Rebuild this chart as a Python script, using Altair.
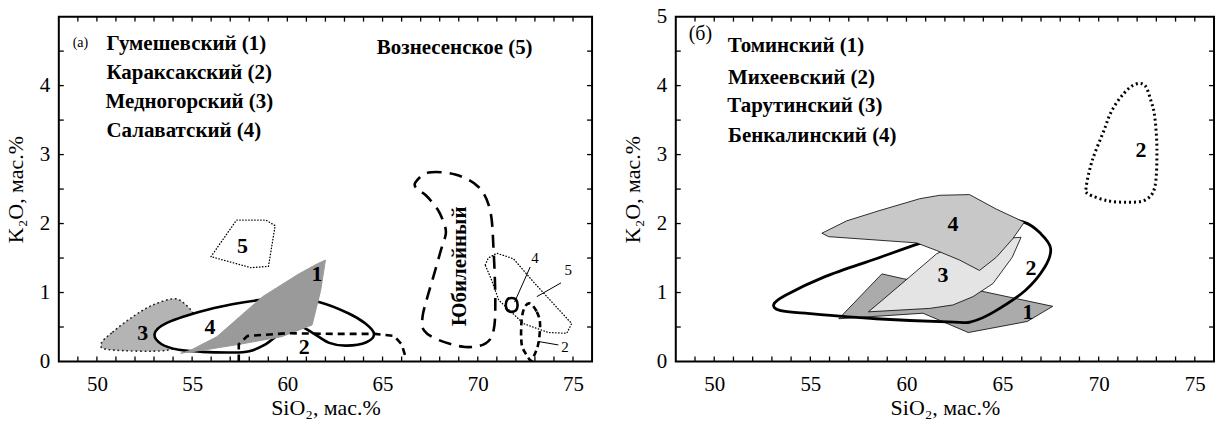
import altair as alt
import pandas as pd

FONT = "Times New Roman, Liberation Serif, DejaVu Serif, serif"
H = 346
W_A = 535
W_B = 540

X_LABELS = [50, 55, 60, 65, 70, 75]
Y_LABELS_A = [0, 1, 2, 3, 4]
Y_LABELS_B = [0, 1, 2, 3, 4, 5]
X_MINOR = [49, 50, 51, 52, 53, 54, 55, 56, 57, 58, 59, 60, 61, 62,
           63, 64, 65, 66, 67, 68, 69, 70, 71, 72, 73, 74, 75]
Y_MINOR = [0.5, 1.0, 1.5, 2.0, 2.5, 3.0, 3.5, 4.0, 4.5]

# ---------- panel (а) ----------
gum_x = [54.4, 55.7, 57.5, 59.7, 61.3, 61.75, 62.0, 61.6, 60.6, 58.7, 57.5, 56.3, 54.9]
gum_y = [0.12, 0.17, 0.25, 0.36, 0.53, 1.03, 1.47, 1.42, 1.27, 0.94, 0.65, 0.36, 0.16]

med_x = [50.23, 50.84, 51.89, 52.94, 54.07, 54.68, 55.05, 55.1, 54.3, 53.6, 50.67]
med_y = [0.26, 0.43, 0.65, 0.82, 0.91, 0.82, 0.70, 0.62, 0.30, 0.16, 0.17]

sal_x = [53.03, 53.6, 55.4, 57.1, 58.5, 60.0, 61.7, 63.2, 64.1, 64.55, 64.15, 63.1,
         62.2, 61.3, 60.5, 59.6, 58.8, 58.0, 57.1, 55.5, 54.3, 53.4]
sal_y = [0.40, 0.55, 0.72, 0.83, 0.89, 0.92, 0.86, 0.70, 0.55, 0.40, 0.28, 0.23,
         0.27, 0.42, 0.52, 0.40, 0.24, 0.15, 0.13, 0.14, 0.17, 0.25]

kar_x = [57.45, 57.45, 57.9, 60.0, 62.5, 64.6, 65.6, 66.0, 66.25]
kar_y = [0.00, 0.25, 0.37, 0.41, 0.40, 0.40, 0.37, 0.25, 0.03]

voz_x = [55.99, 57.33, 58.87, 59.36, 59.01, 58.09]
voz_y = [1.52, 2.05, 2.05, 1.97, 1.38, 1.36]

jub_x = [66.73, 67.42, 68.82, 70.04, 70.65, 70.83, 70.92, 70.83, 70.39, 69.34, 67.96,
         67.18, 67.1, 67.36, 67.71, 68.06, 68.32, 68.23, 67.88, 67.27, 66.8]
jub_y = [2.60, 2.74, 2.71, 2.53, 2.19, 1.61, 0.89, 0.45, 0.26, 0.21, 0.31,
         0.45, 0.65, 0.94, 1.27, 1.61, 1.85, 2.00, 2.21, 2.41, 2.50]

j5_x = [70.39, 70.55, 71.0, 71.87, 73.0, 74.93, 74.67, 73.71, 72.4, 71.1, 70.7]
j5_y = [1.40, 1.50, 1.57, 1.49, 1.13, 0.55, 0.41, 0.42, 0.55, 0.89, 1.20]

j2_x = [72.75, 73.1, 73.27, 73.18, 72.95, 72.8, 72.55, 72.3, 72.3, 72.47]
j2_y = [0.84, 0.72, 0.55, 0.26, 0.08, 0.01, 0.10, 0.26, 0.60, 0.79]

j4_x = [71.47, 71.56, 71.78, 72.0, 72.09, 72.0, 71.78, 71.56]
j4_y = [0.82, 0.90, 0.92, 0.90, 0.82, 0.74, 0.72, 0.74]

lead_x = [[71.93, 72.75], [73.1, 74.37], [73.18, 74.23]]
lead_y = [[0.86, 1.37], [0.94, 1.14], [0.29, 0.24]]

small_txt = ["4", "5", "2"]
small_x = [73.0, 74.75, 74.58]
small_y = [1.50, 1.33, 0.21]

num_a_txt = ["1", "2", "3", "4", "5"]
num_a_x = [61.56, 60.88, 52.41, 55.94, 57.65]
num_a_y = [1.27, 0.21, 0.41, 0.50, 1.68]

leg_a_txt = ["Гумешевский (1)", "Караксакский (2)", "Медногорский (3)", "Салаватский  (4)"]
leg_a_x = [50.5, 50.5, 50.45, 50.5]
leg_a_y = [4.60, 4.18, 3.76, 3.34]

# ---------- panel (б) ----------
tom_x = [56.48, 58.72, 59.84, 63.73, 67.61, 66.28, 63.22, 60.86]
tom_y = [0.62, 1.27, 1.20, 1.03, 0.80, 0.58, 0.42, 0.70]

tar_x = [58.02, 58.62, 60.18, 61.56, 63.0, 65.96, 65.5, 64.5, 63.46, 62.42, 61.21]
tar_y = [0.72, 0.86, 1.23, 1.56, 1.75, 1.80, 1.51, 1.13, 0.94, 0.82, 0.77]

ben_x = [55.6, 55.95, 60.52, 61.56, 62.77, 63.8, 64.67, 65.53, 66.13, 64.67, 63.28,
         61.73, 60.69, 58.62, 56.9]
ben_y = [1.86, 1.81, 1.72, 1.61, 1.47, 1.32, 1.51, 1.78, 2.02, 2.21, 2.42,
         2.41, 2.36, 2.19, 2.04]

mih_x = [53.1, 53.41, 54.74, 58.42, 62.5, 63.42, 64.55, 66.18, 67.2, 67.5, 67.0,
         66.1, 64.5, 62.5, 60.66, 58.42, 55.76, 53.71]
mih_y = [0.83, 0.74, 0.70, 0.62, 0.57, 0.58, 0.72, 1.03, 1.37, 1.64, 1.85,
         2.02, 2.05, 1.85, 1.71, 1.49, 1.23, 0.96]

mih2_x = [71.9, 72.41, 72.72, 72.92, 73.03, 72.92, 72.41, 71.5, 70.47, 69.45, 69.35,
          69.66, 70.26, 70.67, 71.29]
mih2_y = [4.02, 4.00, 3.78, 3.54, 3.06, 2.53, 2.34, 2.31, 2.33, 2.43, 2.53,
          2.91, 3.34, 3.63, 3.88]

num_b_txt = ["4", "3", "2", "1", "2"]
num_b_x = [62.42, 61.9, 66.48, 66.32, 72.2]
num_b_y = [2.00, 1.25, 1.35, 0.72, 3.06]

leg_b_txt = ["Томинский (1)", "Михеевский (2)", "Тарутинский (3)", "Бенкалинский (4)"]
leg_b_x = [50.7, 50.72, 50.68, 50.72]
leg_b_y = [4.57, 4.11, 3.71, 3.27]


def x_enc():
    return alt.X("x:Q", scale=alt.Scale(domain=[48, 76], nice=False, zero=False),
                 axis=alt.Axis(values=X_LABELS, title="SiO₂, мас.%"))


def y_enc(values):
    return alt.Y("y:Q", scale=alt.Scale(domain=[0, 5], nice=False, zero=False),
                 axis=alt.Axis(values=values, title="K₂O, мас.%"))


def poly(xs, ys, yv, **mark):
    df = pd.DataFrame({"x": xs, "y": ys, "i": list(range(len(xs)))})
    return alt.Chart(df).mark_line(**mark).encode(
        x=x_enc(), y=y_enc(yv), order="i:Q")


def labels(txt, xs, ys, yv, **mark):
    df = pd.DataFrame({"x": xs, "y": ys, "t": txt})
    return alt.Chart(df).mark_text(font=FONT, color="black", baseline="middle", **mark).encode(
        x=x_enc(), y=y_enc(yv), text="t:N")


def frame_ticks(yv, width):
    xt = pd.DataFrame({"x": X_MINOR})
    yt = pd.DataFrame({"y": Y_MINOR})
    rule = dict(color="black", strokeWidth=1.3)
    bottom = alt.Chart(xt).mark_rule(**rule).encode(
        x=x_enc(), y=alt.value(H), y2=alt.value(H - 5))
    top = alt.Chart(xt).mark_rule(**rule).encode(
        x=x_enc(), y=alt.value(0), y2=alt.value(5))
    left = alt.Chart(yt).mark_rule(**rule).encode(
        y=y_enc(yv), x=alt.value(0), x2=alt.value(5))
    right = alt.Chart(yt).mark_rule(**rule).encode(
        y=y_enc(yv), x=alt.value(width), x2=alt.value(width - 5))
    return [bottom, top, left, right]


YA = Y_LABELS_A
panel_a_layers = [
    poly(med_x, med_y, YA, interpolate="cardinal-closed", fill="#b4b4b4", stroke="#222222",
         strokeWidth=1.6, strokeDash=[0.5, 4], strokeCap="round"),
    poly(sal_x, sal_y, YA, interpolate="cardinal-closed", fill="white", stroke="black",
         strokeWidth=2.6),
    poly(gum_x, gum_y, YA, interpolate="linear-closed", fill="#9a9a9a", stroke="#9a9a9a",
         strokeWidth=1),
    poly(kar_x, kar_y, YA, interpolate="linear", stroke="black", strokeWidth=2.6,
         strokeDash=[7, 5]),
    poly(voz_x, voz_y, YA, interpolate="linear-closed", stroke="black", strokeWidth=1.3,
         strokeDash=[0.5, 2.5], strokeCap="round"),
    poly(jub_x, jub_y, YA, interpolate="cardinal-closed", stroke="black", strokeWidth=2.6,
         strokeDash=[13, 8]),
    poly(j5_x, j5_y, YA, interpolate="linear-closed", stroke="black", strokeWidth=1.3,
         strokeDash=[0.5, 2.5], strokeCap="round"),
    poly(j2_x, j2_y, YA, interpolate="cardinal-closed", stroke="black", strokeWidth=2.6,
         strokeDash=[6, 4]),
    poly(j4_x, j4_y, YA, interpolate="cardinal-closed", stroke="black", strokeWidth=2.6),
]
for lx, ly in zip(lead_x, lead_y):
    panel_a_layers.append(poly(lx, ly, YA, stroke="black", strokeWidth=1))
panel_a_layers += [
    labels(small_txt, small_x, small_y, YA, fontSize=15, align="center"),
    labels(num_a_txt, num_a_x, num_a_y, YA, fontSize=22, fontWeight="bold", align="center"),
    labels(leg_a_txt, leg_a_x, leg_a_y, YA, fontSize=21, fontWeight="bold", align="left"),
    labels(["Вознесенское (5)"], [64.7], [4.54], YA, fontSize=21, fontWeight="bold",
           align="left"),
    labels(["Юбилейный"], [69.08], [1.38], YA, fontSize=21, fontWeight="bold",
           align="center", angle=270),
    labels(["(а)"], [48.73], [4.62], YA, fontSize=14, align="left"),
]
panel_a_layers += frame_ticks(YA, W_A)
panel_a = alt.layer(*panel_a_layers).properties(width=W_A, height=H)

YB = Y_LABELS_B
panel_b_layers = [
    poly(tom_x, tom_y, YB, interpolate="linear-closed", fill="#ababab", stroke="black",
         strokeWidth=0.8),
    poly(mih_x, mih_y, YB, interpolate="cardinal-closed", stroke="black", strokeWidth=2.8),
    poly(tar_x, tar_y, YB, interpolate="linear-closed", fill="#e4e4e4", stroke="black",
         strokeWidth=0.8),
    poly(ben_x, ben_y, YB, interpolate="linear-closed", fill="#c8c8c8", stroke="black",
         strokeWidth=0.8),
    poly(mih2_x, mih2_y, YB, interpolate="cardinal-closed", stroke="black", strokeWidth=3,
         strokeDash=[2, 3]),
    labels(num_b_txt, num_b_x, num_b_y, YB, fontSize=22, fontWeight="bold", align="center"),
    labels(leg_b_txt, leg_b_x, leg_b_y, YB, fontSize=21, fontWeight="bold", align="left"),
    labels(["(б)"], [48.67], [4.75], YB, fontSize=20, align="left"),
]
panel_b_layers += frame_ticks(YB, W_B)
panel_b = alt.layer(*panel_b_layers).properties(width=W_B, height=H)

chart = (
    alt.hconcat(panel_a, panel_b, spacing=26)
    .properties(padding={"left": 3, "top": 4, "right": 2, "bottom": 0}, background="white")
    .configure_view(stroke="black", strokeWidth=2)
    .configure_axis(domain=False, ticks=False, grid=False, labelFlush=False,
                    labelFont=FONT, labelFontSize=21, labelColor="black",
                    titleFont=FONT, titleFontSize=22, titleFontWeight="normal",
                    titleColor="black")
    .configure_axisX(labelPadding=12, titlePadding=3)
    .configure_axisY(labelPadding=9, titlePadding=12)
)

chart.save("out.html", embed_options={"renderer": "svg", "actions": False})
